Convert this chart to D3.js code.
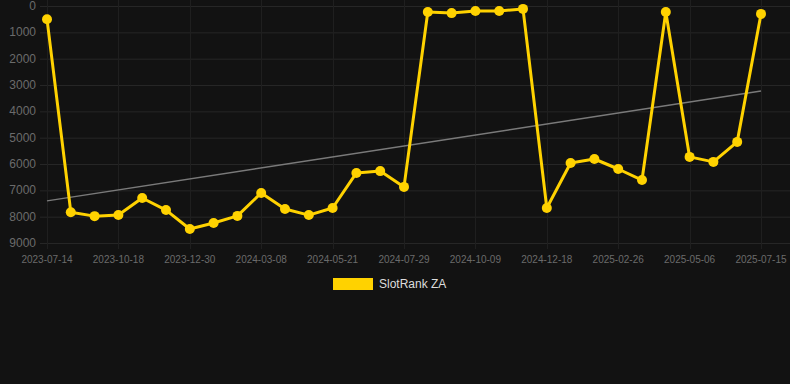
<!DOCTYPE html>
<head>
  <meta charset="utf-8">
  <script src="https://d3js.org/d3.v7.min.js"></script>
  <style>
    body { margin:0; background:#121212; }
    text { font-family: Arial, "Liberation Sans", sans-serif; }
  </style>
</head>
<body>
  <script>
    // rank per observation (lower is better, axis is reversed)
    var ranks = [500, 7830, 7980, 7940, 7290, 7750, 8470, 8240, 7970, 7100,
                 7710, 7940, 7670, 6340, 6270, 6870, 230, 270, 190, 190,
                 110, 7670, 5960, 5810, 6190, 6610, 230, 5730, 5920, 5160, 300];

    // labels shown under every third point
    var tickLabels = ['2023-07-14', '2023-10-18', '2023-12-30', '2024-03-08',
                      '2024-05-21', '2024-07-29', '2024-10-09', '2024-12-18',
                      '2025-02-26', '2025-05-06', '2025-07-15'];

    var yTicks = [0, 1000, 2000, 3000, 4000, 5000, 6000, 7000, 8000, 9000];

    // trend line values at first and last point
    var trendStart = 7400;
    var trendEnd = 3230;

    var seriesName = 'SlotRank ZA';

    var width = 790;
    var height = 384;

    var svg = d3.select('body')
      .append('svg')
      .attr('width', width)
      .attr('height', height);

    svg.append('rect')
      .attr('width', width)
      .attr('height', height)
      .attr('fill', '#121212');

    var idx = d3.range(ranks.length);

    var x = d3.scalePoint()
      .domain(idx)
      .range([47, 761]);

    var y = d3.scaleLinear()
      .domain([0, 9000])
      .range([6, 243]);

    // horizontal grid
    svg.append('g')
      .selectAll('line')
      .data(yTicks)
      .enter()
      .append('line')
      .attr('x1', 40)
      .attr('x2', width)
      .attr('y1', d => y(d) + 0.5)
      .attr('y2', d => y(d) + 0.5)
      .attr('stroke', '#262626')
      .attr('stroke-width', 1);

    // vertical grid at labelled points
    var tickIdx = idx.filter(i => i % 3 === 0);
    svg.append('g')
      .selectAll('line')
      .data(tickIdx)
      .enter()
      .append('line')
      .attr('x1', d => Math.round(x(d)) + 0.5)
      .attr('x2', d => Math.round(x(d)) + 0.5)
      .attr('y1', 0)
      .attr('y2', 249)
      .attr('stroke', '#1f1f1f')
      .attr('stroke-width', 1);

    // y labels
    svg.append('g')
      .selectAll('text')
      .data(yTicks)
      .enter()
      .append('text')
      .attr('x', 36)
      .attr('y', d => y(d) + 4)
      .attr('text-anchor', 'end')
      .attr('fill', '#6b6b6b')
      .style('font-size', '12px')
      .text(d => d);

    // x labels
    svg.append('g')
      .selectAll('text')
      .data(tickIdx)
      .enter()
      .append('text')
      .attr('x', d => x(d))
      .attr('y', 263)
      .attr('text-anchor', 'middle')
      .attr('fill', '#6b6b6b')
      .style('font-size', '10px')
      .text((d, i) => tickLabels[i]);

    // trend line
    svg.append('line')
      .attr('x1', x(0))
      .attr('y1', y(trendStart))
      .attr('x2', x(ranks.length - 1))
      .attr('y2', y(trendEnd))
      .attr('stroke', '#7a7a7a')
      .attr('stroke-width', 1.5);

    var line = d3.line()
      .x((d, i) => x(i))
      .y(d => y(d));

    svg.append('path')
      .datum(ranks)
      .attr('d', line)
      .attr('fill', 'none')
      .attr('stroke', '#ffd200')
      .attr('stroke-width', 3)
      .attr('stroke-linejoin', 'round');

    svg.append('g')
      .selectAll('circle')
      .data(ranks)
      .enter()
      .append('circle')
      .attr('cx', (d, i) => x(i))
      .attr('cy', d => y(d))
      .attr('r', 5)
      .attr('fill', '#ffd200');

    // legend
    var legend = svg.append('g');
    legend.append('rect')
      .attr('x', 333)
      .attr('y', 278)
      .attr('width', 40)
      .attr('height', 12)
      .attr('fill', '#ffd200');
    legend.append('text')
      .attr('x', 379)
      .attr('y', 288)
      .attr('fill', '#dddddd')
      .style('font-size', '12px')
      .text(seriesName);
  </script>
</body>
